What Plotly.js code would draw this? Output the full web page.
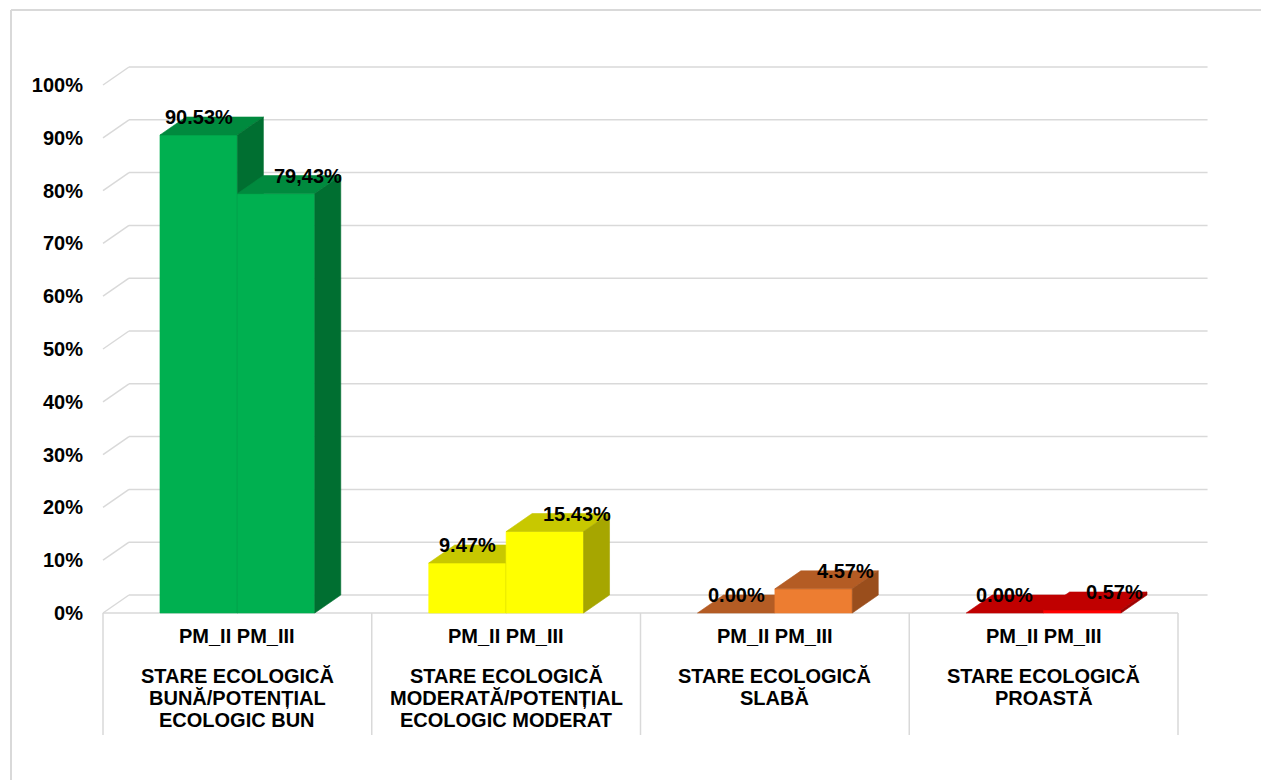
<!DOCTYPE html>
<html><head><meta charset="utf-8">
<script src="https://cdn.plot.ly/plotly-3.0.1.min.js"></script>
<style>html,body{margin:0;padding:0;background:#fff;} #chart{width:1261px;height:780px;}</style>
</head><body><div id="chart"></div>
<script>
// ---- data ----
const categories = [
  'STARE ECOLOGICĂ BUNĂ/POTENȚIAL ECOLOGIC BUN',
  'STARE ECOLOGICĂ MODERATĂ/POTENȚIAL ECOLOGIC MODERAT',
  'STARE ECOLOGICĂ SLABĂ',
  'STARE ECOLOGICĂ PROASTĂ'
];
const categoryLines = [
  ['STARE ECOLOGICĂ', 'BUNĂ/POTENȚIAL', 'ECOLOGIC BUN'],
  ['STARE ECOLOGICĂ', 'MODERATĂ/POTENȚIAL', 'ECOLOGIC MODERAT'],
  ['STARE ECOLOGICĂ', 'SLABĂ'],
  ['STARE ECOLOGICĂ', 'PROASTĂ']
];
const seriesNames = ['PM_II', 'PM_III'];
const pm2Values = [90.53, 9.47, 0.00, 0.00];
const pm3Values = [79.43, 15.43, 4.57, 0.57];
const pm2Labels = ['90.53%', '9.47%', '0.00%', '0.00%'];
const pm3Labels = ['79,43%', '15.43%', '4.57%', '0.57%'];
const yTickValues = [0, 10, 20, 30, 40, 50, 60, 70, 80, 90, 100];
const yTickLabels = ['0%', '10%', '20%', '30%', '40%', '50%', '60%', '70%', '80%', '90%', '100%'];

// ---- styles ----
const frontColors = ['#00B050', '#FFFF00', '#ED7D31', '#FF0000'];
const topColors   = ['#008A3E', '#C8C800', '#B45C24', '#C00000'];
const sideColors  = ['#006F31', '#A6A600', '#9A4E1C', '#A00000'];
const FONT = 'Liberation Sans, Arial, sans-serif';
const GRID = '#D9D9D9';

// ---- geometry (layout only) ----
const W = 1261, H = 780, ML = 87;
const X0PX = 103, CATPX = 268.75, Y0PX = 613, PCTPX = 5.28;
const DU = 26 / CATPX, DV = 18 / PCTPX;
const xr = [(ML - X0PX) / CATPX, (W - X0PX) / CATPX];
const yr = [(Y0PX - H) / PCTPX, Y0PX / PCTPX];
const pxToV = py => (Y0PX - py) / PCTPX;
const pxToPaperX = px => (px - ML) / (W - ML);
const pxToPaperY = py => (H - py) / H;
const BAR_W = 0.288, OFFS = [0.356, 0.644], LABEL_SHIFT = [0, 0.12];

const series = [pm2Values, pm3Values];
const seriesLabels = [pm2Labels, pm3Labels];

const traces = [];
function poly(xs, ys, color, name) {
  traces.push({
    type: 'scatter', mode: 'lines', x: xs.concat([xs[0]]), y: ys.concat([ys[0]]),
    fill: 'toself', fillcolor: color, line: {color: color, width: 0.6},
    hoverinfo: 'skip', showlegend: false, name: name
  });
}
categories.forEach((cat, i) => {
  series.forEach((vals, s) => {
    const v = vals[i];
    const xc = i + OFFS[s], x0 = xc - BAR_W / 2, x1 = xc + BAR_W / 2;
    if (v > 0) poly([x0, x1, x1, x0], [0, 0, v, v], frontColors[i], seriesNames[s]);
    poly([x0, x1, x1 + DU, x0 + DU], [v, v, v + DV, v + DV], topColors[i], seriesNames[s]);
    if (v > 0) poly([x1, x1 + DU, x1 + DU, x1], [0, DV, v + DV, v], sideColors[i], seriesNames[s]);
  });
});

const shapes = [];
const gl = (x0, y0, x1, y1) => shapes.push({type: 'line', xref: 'x', yref: 'y', x0, y0, x1, y1,
  line: {color: GRID, width: 1.5}, layer: 'below'});
yTickValues.forEach(v => {
  gl(0, v, DU, v + DV);
  gl(DU, v + DV, 4 + 0.11, v + DV);
});
gl(0, 0, 4, 0);
for (let k = 0; k <= categories.length; k++) gl(k, 0, k, pxToV(735));
// chart border
shapes.push({type: 'line', xref: 'paper', yref: 'paper', x0: pxToPaperX(11), y0: pxToPaperY(10),
  x1: pxToPaperX(1275), y1: pxToPaperY(10), line: {color: GRID, width: 2}});
shapes.push({type: 'line', xref: 'paper', yref: 'paper', x0: pxToPaperX(11), y0: pxToPaperY(10),
  x1: pxToPaperX(11), y1: pxToPaperY(790), line: {color: GRID, width: 2}});

const annotations = [];
const txt = (x, y, text) => annotations.push({x, y, xref: 'x', yref: 'y', text, showarrow: false,
  xanchor: 'center', yanchor: 'middle', font: {family: FONT, size: 20, color: '#000', weight: 'bold'}});
categories.forEach((cat, i) => {
  series.forEach((vals, s) => {
    txt(i + OFFS[s] + LABEL_SHIFT[s], vals[i] + DV, seriesLabels[s][i]);
  });
  txt(i + 0.5, pxToV(636), seriesNames.join(' '));
  categoryLines[i].forEach((line, k) => txt(i + 0.5, pxToV(676 + 22 * k), line));
});

const layout = {
  width: W, height: H, margin: {l: ML, r: 0, t: 0, b: 0},
  paper_bgcolor: '#fff', plot_bgcolor: 'rgba(0,0,0,0)', showlegend: false,
  font: {family: FONT, color: '#000'},
  xaxis: {range: xr, visible: false, fixedrange: true},
  yaxis: {range: yr, tickmode: 'array', tickvals: yTickValues, ticktext: yTickLabels,
    showgrid: false, zeroline: false, showline: false, ticks: '', ticklabelstandoff: 3,
    tickfont: {family: FONT, size: 20, color: '#000', weight: 'bold'}, fixedrange: true},
  shapes, annotations
};
Plotly.newPlot('chart', traces, layout, {staticPlot: true, displayModeBar: false});
</script></body></html>
